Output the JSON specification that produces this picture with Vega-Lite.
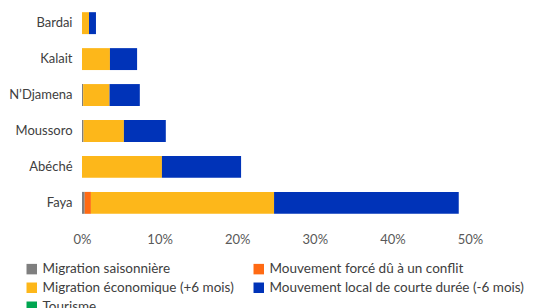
{
  "$schema": "https://vega.github.io/schema/vega-lite/v6.json",
  "autosize": "none",
  "width": 388,
  "height": 216,
  "padding": {"left": 82, "top": 5, "right": 65, "bottom": 87},
  "background": "white",
  "config": {"view": {"stroke": null}, "font": "Lato"},
  "data": {
    "values": [
      {"ville": "Bardai", "type": "Migration économique (+6 mois)", "pct": 0.9, "o": 3},
      {"ville": "Bardai", "type": "Mouvement local de courte durée (-6 mois)", "pct": 0.9, "o": 4},
      {"ville": "Kalait", "type": "Migration économique (+6 mois)", "pct": 3.6, "o": 3},
      {"ville": "Kalait", "type": "Mouvement local de courte durée (-6 mois)", "pct": 3.5, "o": 4},
      {"ville": "N’Djamena", "type": "Migration saisonnière", "pct": 0.15, "o": 1},
      {"ville": "N’Djamena", "type": "Migration économique (+6 mois)", "pct": 3.4, "o": 3},
      {"ville": "N’Djamena", "type": "Mouvement local de courte durée (-6 mois)", "pct": 3.9, "o": 4},
      {"ville": "Moussoro", "type": "Migration saisonnière", "pct": 0.2, "o": 1},
      {"ville": "Moussoro", "type": "Migration économique (+6 mois)", "pct": 5.2, "o": 3},
      {"ville": "Moussoro", "type": "Mouvement local de courte durée (-6 mois)", "pct": 5.4, "o": 4},
      {"ville": "Abéché", "type": "Migration économique (+6 mois)", "pct": 10.3, "o": 3},
      {"ville": "Abéché", "type": "Mouvement local de courte durée (-6 mois)", "pct": 10.2, "o": 4},
      {"ville": "Faya", "type": "Migration saisonnière", "pct": 0.35, "o": 1},
      {"ville": "Faya", "type": "Mouvement forcé dû à un conflit", "pct": 0.8, "o": 2},
      {"ville": "Faya", "type": "Migration économique (+6 mois)", "pct": 23.6, "o": 3},
      {"ville": "Faya", "type": "Mouvement local de courte durée (-6 mois)", "pct": 23.8, "o": 4}
    ]
  },
  "mark": {"type": "bar"},
  "encoding": {
    "y": {
      "field": "ville", "type": "nominal",
      "sort": ["Bardai", "Kalait", "N’Djamena", "Moussoro", "Abéché", "Faya"],
      "scale": {"paddingInner": 0.39, "paddingOuter": 0.2},
      "axis": {"title": null, "domain": false, "ticks": false, "labelFontSize": 13, "labelColor": "#404040", "labelPadding": 10}
    },
    "x": {
      "field": "pct", "type": "quantitative", "stack": "zero",
      "scale": {"domain": [0, 50], "nice": false},
      "axis": {"title": null, "domain": false, "ticks": false, "grid": false, "values": [0, 10, 20, 30, 40, 50], "labelExpr": "datum.value + '%'", "labelFontSize": 13, "labelColor": "#595959", "labelPadding": 12, "labelFlush": false}
    },
    "order": {"field": "o", "type": "quantitative"},
    "color": {
      "field": "type", "type": "nominal",
      "scale": {
        "domain": ["Migration saisonnière", "Migration économique (+6 mois)", "Tourisme", "Mouvement forcé dû à un conflit", "Mouvement local de courte durée (-6 mois)"],
        "range": ["#7f7f7f", "#fdb71a", "#00a651", "#ff6a13", "#0033b8"]
      },
      "legend": {
        "title": null, "orient": "none", "legendX": -57, "legendY": 257,
        "columns": 2, "symbolType": "square", "symbolSize": 110, "symbolStrokeWidth": 0,
        "labelFontSize": 13.5, "labelColor": "#404040", "rowPadding": 4, "columnPadding": 18,
        "labelLimit": 300
      }
    }
  }
}
